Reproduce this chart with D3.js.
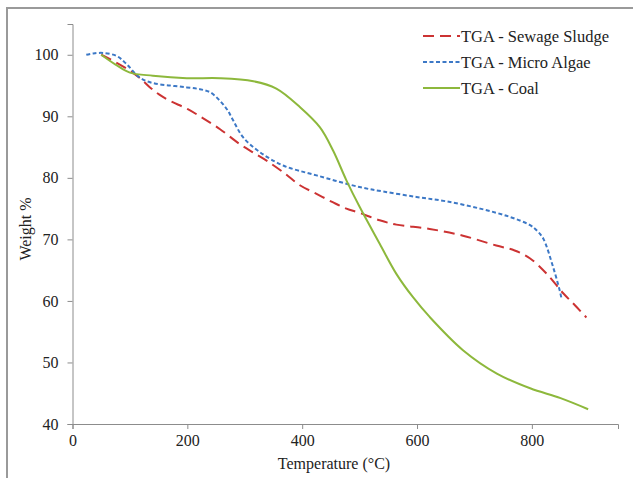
<!DOCTYPE html>
<html>
<head>
<meta charset="utf-8">
<script src="https://cdn.jsdelivr.net/npm/d3@7"></script>
<style>
  body { margin: 0; background: #fff; }
  text { font-family: "Liberation Serif", "Times New Roman", serif; fill: #222; }
</style>
</head>
<body>
<script>
// Data (temperature in °C, weight in %)
var sludgeT = [50, 75, 100, 120, 135, 150, 170, 200, 227, 257, 291, 315, 338, 370, 396, 425, 454, 477, 500, 535, 564, 622, 680, 738, 770, 797, 826, 855, 875, 895];
var sludgeW = [100, 98.8, 97.4, 96, 94.7, 93.6, 92.5, 91.2, 89.7, 87.9, 85.5, 84.1, 82.8, 80.7, 78.8, 77.4, 76.0, 75.0, 74.3, 73.1, 72.4, 71.7, 70.6, 69.0, 68.2, 66.9, 64.4, 61.2, 59.3, 57.3];

var algaeT = [24, 35, 53, 77, 94, 117, 140, 170, 199, 222, 240, 257, 270, 280, 297, 326, 367, 425, 500, 540, 599, 650, 710, 760, 797, 810, 820, 837, 849, 852];
var algaeW = [100, 100.2, 100.3, 99.8, 98.5, 96.3, 95.4, 95.0, 94.7, 94.4, 93.9, 92.5, 91.0, 89.3, 86.6, 84.2, 82.0, 80.4, 78.5, 77.8, 76.9, 76.2, 75.0, 73.7, 72.3, 71.3, 70.1, 65.5, 61.5, 60.2];

var coalT = [50, 75, 100, 140, 199, 257, 315, 355, 396, 431, 454, 477, 500, 535, 564, 593, 622, 680, 739, 797, 850, 898];
var coalW = [100, 98.4, 97.1, 96.6, 96.2, 96.2, 95.7, 94.5, 91.5, 88.2, 84.4, 79.6, 75.3, 69.3, 64.4, 60.6, 57.4, 52.0, 48.2, 45.8, 44.2, 42.4];

var xTicks = [0, 200, 400, 600, 800];
var yTicks = [40, 50, 60, 70, 80, 90, 100];

var seriesNames = ["TGA - Sewage Sludge", "TGA - Micro Algae", "TGA - Coal"];

// Set up the SVG container
var width = 633;
var height = 478;
var svg = d3.select("body")
  .append("svg")
  .attr("width", width)
  .attr("height", height)
  .attr("font-family", "'Liberation Serif', serif");

// outer frame
svg.append("rect")
  .attr("x", 7)
  .attr("y", 8)
  .attr("width", 700)
  .attr("height", 600)
  .attr("fill", "none")
  .attr("stroke", "#9a9a9a")
  .attr("stroke-width", 2);

// Scales
var xScale = d3.scaleLinear().domain([0, 950]).range([72.5, 618]);
var yScale = d3.scaleLinear().domain([40, 105]).range([424, 24]);

// Axes
var xAxis = d3.axisBottom(xScale).tickValues(xTicks).tickSize(5).tickPadding(6);
var yAxis = d3.axisLeft(yScale).tickValues(yTicks).tickSize(5).tickPadding(9);

var gx = svg.append("g")
  .attr("transform", "translate(0,424)")
  .call(xAxis);
var gy = svg.append("g")
  .attr("transform", "translate(72.5,0)")
  .call(yAxis);

[gx, gy].forEach(function(g) {
  g.attr("font-family", null).attr("font-size", null);
  g.select(".domain").attr("stroke", "#8c8c8c");
  g.selectAll(".tick line").attr("stroke", "#8c8c8c");
  g.selectAll(".tick text")
    .style("font-family", "'Liberation Serif', serif")
    .style("font-size", "16px")
    .attr("fill", "#222");
});

// Axis titles
svg.append("text")
  .attr("x", 334)
  .attr("y", 469)
  .attr("text-anchor", "middle")
  .style("font-size", "16px")
  .text("Temperature (°C)");

svg.append("text")
  .attr("transform", "translate(31,229) rotate(-90)")
  .attr("text-anchor", "middle")
  .style("font-size", "16px")
  .text("Weight %");

// Lines
var line = d3.line()
  .x(function(d) { return xScale(d[0]); })
  .y(function(d) { return yScale(d[1]); })
  .curve(d3.curveCatmullRom.alpha(0.5));

var series = [
  { name: seriesNames[0], pts: d3.zip(sludgeT, sludgeW), color: "#cc3333", dash: "11,6" },
  { name: seriesNames[1], pts: d3.zip(algaeT, algaeW), color: "#3c78c6", dash: "4,2.5" },
  { name: seriesNames[2], pts: d3.zip(coalT, coalW), color: "#8db83c", dash: null }
];

svg.selectAll("path.series")
  .data(series)
  .enter()
  .append("path")
  .attr("class", "series")
  .attr("d", function(d) { return line(d.pts); })
  .attr("fill", "none")
  .attr("stroke", function(d) { return d.color; })
  .attr("stroke-width", 2)
  .attr("stroke-dasharray", function(d) { return d.dash; });

// Legend
var legend = svg.selectAll("g.legend")
  .data(series)
  .enter()
  .append("g")
  .attr("class", "legend")
  .attr("transform", function(d, i) { return "translate(423," + [36, 62, 88][i] + ")"; });

legend.append("line")
  .attr("x1", 0)
  .attr("x2", 37)
  .attr("stroke", function(d) { return d.color; })
  .attr("stroke-width", 2)
  .attr("stroke-dasharray", function(d) { return d.dash; });

legend.append("text")
  .attr("x", 38)
  .attr("dy", "0.35em")
  .style("font-size", "16.5px")
  .text(function(d) { return d.name; });
</script>
</body>
</html>
